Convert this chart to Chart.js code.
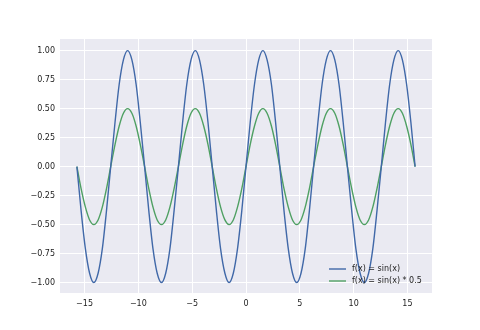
<!DOCTYPE html>
<html>
<head>
<meta charset="UTF-8">
<title>sin(x)</title>
<style>
  html, body { margin: 0; padding: 0; background: #ffffff; }
  #wrap { width: 480px; height: 330px; }
</style>
</head>
<body>
<div id="wrap"><canvas id="chart" width="480" height="330"></canvas></div>
<script src="https://cdn.jsdelivr.net/npm/chart.js"></script>
<script>
// x samples (step ~pi/8 from -5pi to 5pi)
const xs = [
  -15.71, -15.32, -14.92, -14.53, -14.14, -13.74, -13.35, -12.96, -12.57, -12.17,
  -11.78, -11.39, -11.00, -10.60, -10.21, -9.82, -9.42, -9.03, -8.64, -8.25,
  -7.85, -7.46, -7.07, -6.68, -6.28, -5.89, -5.50, -5.11, -4.71, -4.32,
  -3.93, -3.53, -3.14, -2.75, -2.36, -1.96, -1.57, -1.18, -0.79, -0.39,
  0,
  0.39, 0.79, 1.18, 1.57, 1.96, 2.36, 2.75, 3.14, 3.53, 3.93,
  4.32, 4.71, 5.11, 5.50, 5.89, 6.28, 6.68, 7.07, 7.46, 7.85,
  8.25, 8.64, 9.03, 9.42, 9.82, 10.21, 10.60, 11.00, 11.39, 11.78,
  12.17, 12.57, 12.96, 13.35, 13.74, 14.14, 14.53, 14.92, 15.32, 15.71
];

const sinValues = [
  0, -0.38, -0.71, -0.92, -1, -0.92, -0.71, -0.38, 0, 0.38, 0.71, 0.92, 1, 0.92, 0.71, 0.38,
  0, -0.38, -0.71, -0.92, -1, -0.92, -0.71, -0.38, 0, 0.38, 0.71, 0.92, 1, 0.92, 0.71, 0.38,
  0, -0.38, -0.71, -0.92, -1, -0.92, -0.71, -0.38, 0, 0.38, 0.71, 0.92, 1, 0.92, 0.71, 0.38,
  0, -0.38, -0.71, -0.92, -1, -0.92, -0.71, -0.38, 0, 0.38, 0.71, 0.92, 1, 0.92, 0.71, 0.38,
  0, -0.38, -0.71, -0.92, -1, -0.92, -0.71, -0.38, 0, 0.38, 0.71, 0.92, 1, 0.92, 0.71, 0.38,
  0
];

const halfSinValues = [
  0, -0.19, -0.35, -0.46, -0.5, -0.46, -0.35, -0.19, 0, 0.19, 0.35, 0.46, 0.5, 0.46, 0.35, 0.19,
  0, -0.19, -0.35, -0.46, -0.5, -0.46, -0.35, -0.19, 0, 0.19, 0.35, 0.46, 0.5, 0.46, 0.35, 0.19,
  0, -0.19, -0.35, -0.46, -0.5, -0.46, -0.35, -0.19, 0, 0.19, 0.35, 0.46, 0.5, 0.46, 0.35, 0.19,
  0, -0.19, -0.35, -0.46, -0.5, -0.46, -0.35, -0.19, 0, 0.19, 0.35, 0.46, 0.5, 0.46, 0.35, 0.19,
  0, -0.19, -0.35, -0.46, -0.5, -0.46, -0.35, -0.19, 0, 0.19, 0.35, 0.46, 0.5, 0.46, 0.35, 0.19,
  0
];

const seriesNames = ['f(x) = sin(x)', 'f(x) = sin(x) * 0.5'];
const xTicks = [-15, -10, -5, 0, 5, 10, 15];
const yTicks = [-1, -0.75, -0.5, -0.25, 0, 0.25, 0.5, 0.75, 1];

const BLUE = '#4068a8';
const GREEN = '#4fa063';
const FONT = { family: '"DejaVu Sans", sans-serif', size: 8 };

const minus = s => s.replace('-', '\u2212');

// grey plot background like seaborn darkgrid
const bgPlugin = {
  id: 'bg',
  beforeDraw(chart) {
    const a = chart.chartArea, ctx = chart.ctx;
    ctx.save();
    ctx.fillStyle = '#eaeaf2';
    ctx.fillRect(a.left, a.top, a.right - a.left, a.bottom - a.top);
    ctx.restore();
  }
};

// legend inside the plot, bottom right, no frame
const legendPlugin = {
  id: 'innerLegend',
  afterDatasetsDraw(chart) {
    const ctx = chart.ctx;
    ctx.save();
    ctx.font = '8px "DejaVu Sans", sans-serif';
    ctx.textBaseline = 'middle';
    chart.data.datasets.forEach((ds, i) => {
      const y = 269 + i * 12;
      ctx.strokeStyle = ds.borderColor;
      ctx.lineWidth = 1.4;
      ctx.beginPath();
      ctx.moveTo(329, y);
      ctx.lineTo(346, y);
      ctx.stroke();
      ctx.fillStyle = '#222222';
      ctx.fillText(ds.label, 352, y);
    });
    ctx.restore();
  }
};

new Chart(document.getElementById('chart'), {
  type: 'line',
  data: {
    datasets: [
      {
        label: seriesNames[0],
        data: xs.map((x, i) => ({ x: x, y: sinValues[i] })),
        borderColor: BLUE,
        borderWidth: 1.4,
        pointRadius: 0,
        fill: false,
        cubicInterpolationMode: 'monotone'
      },
      {
        label: seriesNames[1],
        data: xs.map((x, i) => ({ x: x, y: halfSinValues[i] })),
        borderColor: GREEN,
        borderWidth: 1.4,
        pointRadius: 0,
        fill: false,
        cubicInterpolationMode: 'monotone'
      }
    ]
  },
  options: {
    responsive: false,
    animation: false,
    layout: { padding: { left: 0, right: 48, top: 39, bottom: 0 } },
    plugins: { legend: { display: false }, tooltip: { enabled: false } },
    scales: {
      x: {
        type: 'linear',
        min: -17.28,
        max: 17.28,
        afterBuildTicks: s => { s.ticks = xTicks.map(v => ({ value: v })); },
        afterFit: s => { s.height = 37; },
        grid: { color: '#ffffff', lineWidth: 1, drawTicks: false },
        border: { display: false },
        ticks: {
          font: FONT, color: '#222222', padding: 6, maxRotation: 0,
          callback: v => minus(String(v))
        }
      },
      y: {
        type: 'linear',
        min: -1.09,
        max: 1.1,
        afterBuildTicks: s => { s.ticks = yTicks.map(v => ({ value: v })); },
        afterFit: s => { s.width = 60; },
        grid: { color: '#ffffff', lineWidth: 1, drawTicks: false },
        border: { display: false },
        ticks: {
          font: FONT, color: '#222222', padding: 5,
          callback: v => minus(Number(v).toFixed(2))
        }
      }
    }
  },
  plugins: [bgPlugin, legendPlugin]
});
</script>
</body>
</html>
